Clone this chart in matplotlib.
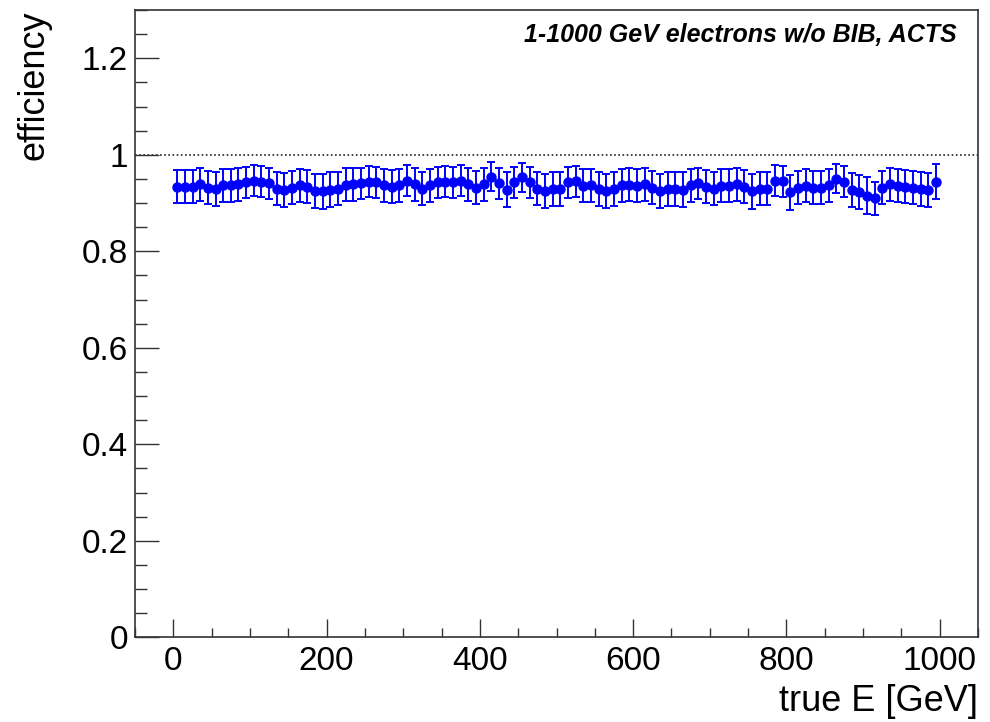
import matplotlib.pyplot as plt
from matplotlib.ticker import MultipleLocator

plt.rcParams['font.family'] = ['Liberation Sans', 'DejaVu Sans']

# bin centres (10 GeV bins) and efficiency values
energy = [5, 15, 25, 35, 45, 55, 65, 75, 85, 95,
          105, 115, 125, 135, 145, 155, 165, 175, 185, 195,
          205, 215, 225, 235, 245, 255, 265, 275, 285, 295,
          305, 315, 325, 335, 345, 355, 365, 375, 385, 395,
          405, 415, 425, 435, 445, 455, 465, 475, 485, 495,
          505, 515, 525, 535, 545, 555, 565, 575, 585, 595,
          605, 615, 625, 635, 645, 655, 665, 675, 685, 695,
          705, 715, 725, 735, 745, 755, 765, 775, 785, 795,
          805, 815, 825, 835, 845, 855, 865, 875, 885, 895,
          905, 915, 925, 935, 945, 955, 965, 975, 985, 995]
efficiency = [0.934, 0.934, 0.934, 0.939, 0.932, 0.929, 0.937, 0.937, 0.939, 0.943,
              0.946, 0.944, 0.941, 0.930, 0.927, 0.932, 0.937, 0.934, 0.925, 0.924,
              0.928, 0.930, 0.938, 0.939, 0.941, 0.944, 0.943, 0.937, 0.934, 0.937,
              0.946, 0.939, 0.930, 0.937, 0.943, 0.944, 0.943, 0.946, 0.939, 0.932,
              0.939, 0.955, 0.941, 0.928, 0.943, 0.953, 0.943, 0.930, 0.925, 0.929,
              0.929, 0.943, 0.945, 0.936, 0.937, 0.929, 0.925, 0.929, 0.937, 0.938,
              0.936, 0.939, 0.932, 0.925, 0.929, 0.929, 0.928, 0.937, 0.941, 0.934,
              0.930, 0.936, 0.936, 0.939, 0.934, 0.924, 0.930, 0.930, 0.946, 0.945,
              0.922, 0.932, 0.936, 0.932, 0.932, 0.937, 0.950, 0.944, 0.927, 0.923,
              0.915, 0.910, 0.932, 0.939, 0.936, 0.934, 0.932, 0.929, 0.927, 0.944]
errors = [0.034, 0.034, 0.034, 0.034, 0.034, 0.036, 0.034, 0.034, 0.034, 0.032,
          0.032, 0.032, 0.032, 0.034, 0.036, 0.034, 0.034, 0.034, 0.036, 0.036,
          0.036, 0.034, 0.034, 0.034, 0.032, 0.032, 0.032, 0.034, 0.034, 0.034,
          0.032, 0.034, 0.034, 0.034, 0.032, 0.032, 0.032, 0.032, 0.034, 0.034,
          0.034, 0.030, 0.032, 0.036, 0.032, 0.030, 0.032, 0.034, 0.036, 0.036,
          0.036, 0.032, 0.032, 0.034, 0.034, 0.036, 0.036, 0.036, 0.034, 0.034,
          0.034, 0.034, 0.034, 0.036, 0.036, 0.036, 0.036, 0.034, 0.032, 0.034,
          0.034, 0.034, 0.034, 0.034, 0.034, 0.036, 0.034, 0.034, 0.032, 0.032,
          0.036, 0.034, 0.034, 0.034, 0.034, 0.034, 0.030, 0.032, 0.036, 0.036,
          0.038, 0.034, 0.034, 0.034, 0.034, 0.034, 0.034, 0.036, 0.036, 0.036]

fig = plt.figure(figsize=(9.9, 7.22), dpi=100)
ax = fig.add_axes([0.1364, 0.1173, 0.8515, 0.8688])

# reference line at 100%
ax.axhline(1.0, color='#222222', linestyle=(0, (1, 1.5)), linewidth=1.2, zorder=1)

ax.errorbar(energy, efficiency, yerr=errors, fmt='o', color='#0000ff',
            markersize=6.5, elinewidth=1.4, capsize=3, capthick=1.4, zorder=3)

ax.set_xlim(-50, 1050)
ax.set_ylim(0, 1.3)
ax.xaxis.set_major_locator(MultipleLocator(200))
ax.xaxis.set_minor_locator(MultipleLocator(50))
ax.yaxis.set_major_locator(MultipleLocator(0.2))
ax.yaxis.set_minor_locator(MultipleLocator(0.05))
ax.set_yticks([0, 0.2, 0.4, 0.6, 0.8, 1.0, 1.2])
ax.set_yticklabels(['0', '0.2', '0.4', '0.6', '0.8', '1', '1.2'])

ax.tick_params(axis='both', which='both', direction='in', labelsize=24,
               top=False, right=False, width=1.0, color='#333333')
ax.tick_params(axis='y', which='major', length=17, pad=5)
ax.tick_params(axis='y', which='minor', length=8.5)
ax.tick_params(axis='x', which='major', length=13, pad=6)
ax.tick_params(axis='x', which='minor', length=6.5)

for sp in ax.spines.values():
    sp.set_linewidth(1.2)
    sp.set_color('#333333')

ax.set_xlabel('true E [GeV]', fontsize=26, loc='right', labelpad=5)
ax.set_ylabel('efficiency', fontsize=26, loc='top', labelpad=22)

ax.text(0.975, 0.96, '1-1000 GeV electrons w/o BIB, ACTS', transform=ax.transAxes,
        ha='right', va='center', fontsize=18, fontweight='bold', fontstyle='italic')

plt.savefig('out.png', dpi=100)
